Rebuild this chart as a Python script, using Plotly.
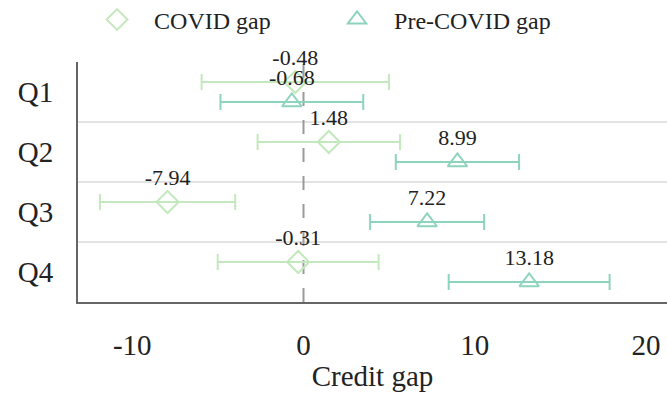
import plotly.graph_objects as go

quarters = ["Q1", "Q2", "Q3", "Q4"]
covid_gap = [-0.48, 1.48, -7.94, -0.31]
covid_err = [5.47, 4.16, 3.95, 4.70]
precovid_gap = [-0.68, 8.99, 7.22, 13.18]
precovid_err = [4.17, 3.60, 3.33, 4.70]
x_ticks = [-10, 0, 10, 20]

FONT = "Liberation Serif"
C_COVID = "#c4e8bd"
C_PRE = "#8dd4bd"
OFF = 1 / 6

idx = list(range(len(quarters)))
fig = go.Figure()

fig.add_trace(go.Scatter(
    x=covid_gap, y=[i - OFF for i in idx], name="COVID gap",
    mode="markers+text", texttemplate="%{x:.2f}", textposition="top center",
    textfont=dict(family=FONT, size=22, color="#222"), cliponaxis=False,
    marker=dict(symbol="diamond-open", size=17, color=C_COVID, line=dict(width=2, color=C_COVID)),
    error_x=dict(type="data", array=covid_err, color=C_COVID, thickness=2, width=8),
))
fig.add_trace(go.Scatter(
    x=precovid_gap, y=[i + OFF for i in idx], name="Pre-COVID gap",
    mode="markers+text", texttemplate="%{x:.2f}", textposition="top center",
    textfont=dict(family=FONT, size=22, color="#222"), cliponaxis=False,
    marker=dict(symbol="triangle-up-open", size=17, color=C_PRE, line=dict(width=2, color=C_PRE)),
    error_x=dict(type="data", array=precovid_err, color=C_PRE, thickness=2, width=8),
))

# separators between quarters
for i in idx[:-1]:
    fig.add_shape(type="line", xref="paper", x0=0, x1=1, yref="y", y0=i + 0.5, y1=i + 0.5,
                  line=dict(color="#e3e3e3", width=2), layer="below")
# zero reference
fig.add_shape(type="line", xref="x", x0=0, x1=0, yref="paper", y0=0, y1=1,
              line=dict(color="#9a9a9a", width=2, dash="14px,14px"), layer="below")

fig.update_layout(
    width=667, height=398,
    margin=dict(l=78, r=0, t=62, b=96, autoexpand=False),
    plot_bgcolor="white", paper_bgcolor="white",
    font=dict(family=FONT, size=29, color="#222"),
    showlegend=True,
    legend=dict(orientation="h", xref="container", yref="container",
                x=0.12, xanchor="left", y=0.95, yanchor="middle",
                font=dict(family=FONT, size=24, color="#222"),
                itemwidth=64, entrywidth=161,
                bgcolor="rgba(0,0,0,0)"),
    xaxis=dict(range=[-13.17, 21.23], tickvals=x_ticks, ticktext=[str(v) for v in x_ticks],
               showgrid=False, zeroline=False, showline=True, linecolor="#666", linewidth=2,
               ticks="", ticklabelstandoff=16, automargin=False,
               title=dict(text="Credit gap", font=dict(family=FONT, size=29), standoff=6)),
    yaxis=dict(range=[3.5, -0.5], tickvals=idx, ticktext=quarters, showgrid=False,
               zeroline=False, showline=True, linecolor="#666", linewidth=2,
               ticks="", ticklabelstandoff=17, automargin=False),
)

fig.write_html("out.html", config={"displayModeBar": False},
               post_script="document.body.style.margin='0';document.body.style.overflow='hidden';")
